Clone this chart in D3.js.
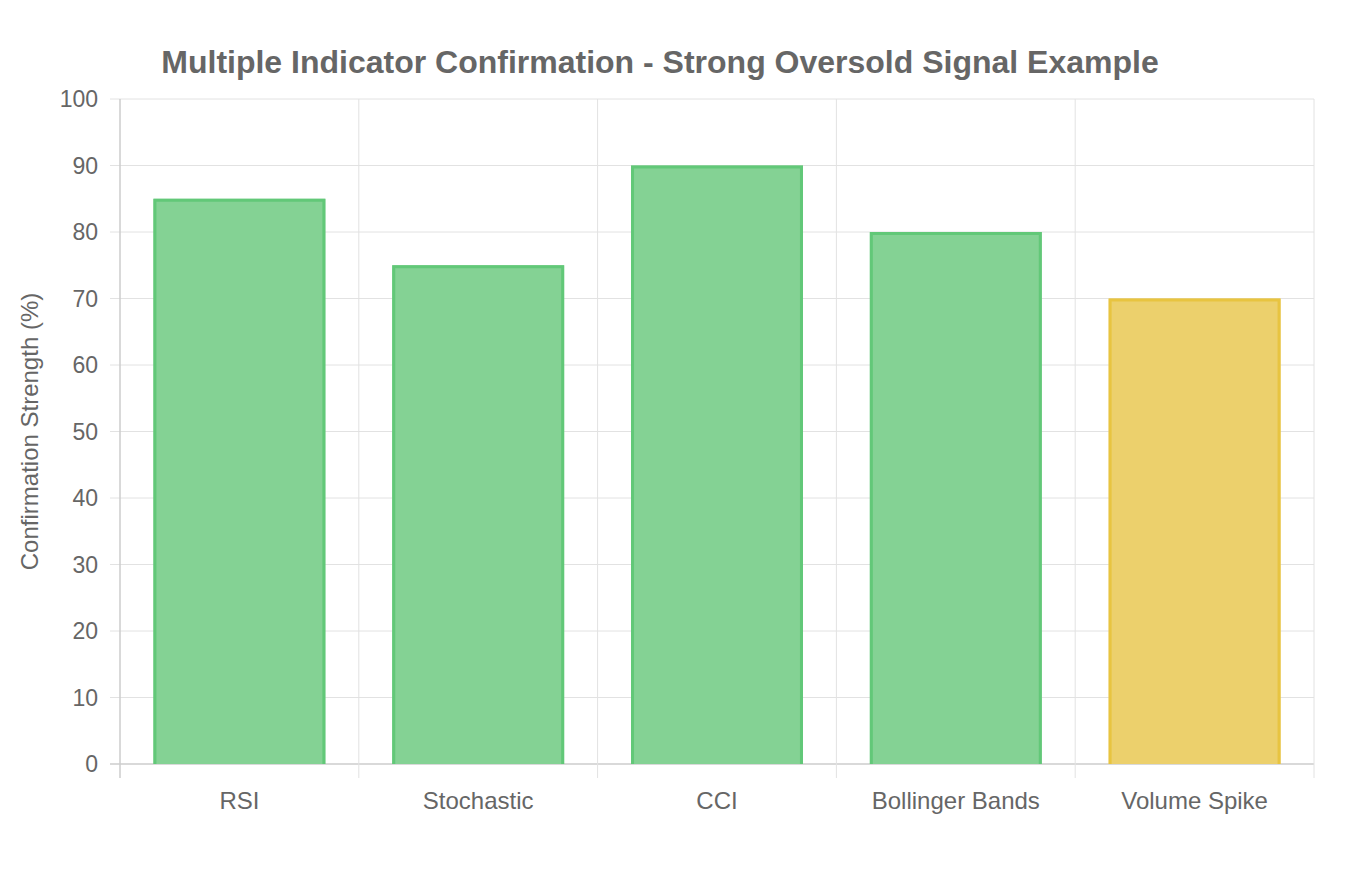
<!DOCTYPE html>
<html>
<head>
<meta charset="utf-8">
<script src="https://cdn.jsdelivr.net/npm/d3@7"></script>
<style>
  body { margin: 0; background: #fff; }
  svg text { font-family: "Liberation Sans", Arial, Helvetica, sans-serif; fill: #666; }
</style>
</head>
<body>
<div id="chart"></div>
<script>
// Chart data
const indicators = ['RSI', 'Stochastic', 'CCI', 'Bollinger Bands', 'Volume Spike'];
const strength = [85, 75, 90, 80, 70];
const fillColors = ['#84d294', '#84d294', '#84d294', '#84d294', '#ecd06c'];
const borderColors = ['#62c878', '#62c878', '#62c878', '#62c878', '#e8c440'];
const yTicks = [0, 10, 20, 30, 40, 50, 60, 70, 80, 90, 100];

const width = 1357, height = 877;
const margin = { top: 99, right: 43, bottom: 113, left: 120 };

const svg = d3.select('#chart').append('svg')
    .attr('width', width)
    .attr('height', height);

const x = d3.scaleBand()
    .domain(indicators)
    .range([margin.left, width - margin.right]);

const y = d3.scaleLinear()
    .domain([0, 100])
    .range([height - margin.bottom, margin.top]);

// Gridlines
const grid = svg.append('g');
grid.selectAll('.hgrid')
    .data(yTicks)
    .join('line')
    .attr('x1', margin.left - 10)
    .attr('x2', width - margin.right)
    .attr('y1', d => y(d))
    .attr('y2', d => y(d))
    .attr('stroke', d => d === 0 ? '#ccc' : '#e2e2e2')
    .attr('stroke-width', d => d === 0 ? 1.5 : 1);

// vertical lines at band edges
const edges = indicators.map(d => x(d)).concat([x.range()[1]]);
grid.selectAll('.vgrid')
    .data(edges)
    .join('line')
    .attr('x1', d => d)
    .attr('x2', d => d)
    .attr('y1', margin.top)
    .attr('y2', y(0) + 14)
    .attr('stroke', (d, i) => i === 0 ? '#ccc' : '#e2e2e2')
    .attr('stroke-width', (d, i) => i === 0 ? 1.5 : 1);

// Bars
const barW = x.bandwidth() * 0.72;
const bars = svg.append('g').selectAll('g')
    .data(indicators)
    .join('g');

bars.append('rect')
    .attr('x', d => x(d) + (x.bandwidth() - barW) / 2)
    .attr('y', (d, i) => y(strength[i]))
    .attr('width', barW)
    .attr('height', (d, i) => y(0) - y(strength[i]))
    .attr('fill', (d, i) => fillColors[i]);

// border on top, left and right (drawn inside the bar)
bars.append('path')
    .attr('d', (d, i) => {
        const bw = 3, h = bw / 2;
        const x0 = x(d) + (x.bandwidth() - barW) / 2 + h;
        const x1 = x0 + barW - bw;
        const yt = y(strength[i]) + h;
        return `M${x0},${y(0)}V${yt}H${x1}V${y(0)}`;
    })
    .attr('fill', 'none')
    .attr('stroke', (d, i) => borderColors[i])
    .attr('stroke-width', 3);

// Y tick labels
svg.append('g').selectAll('text')
    .data(yTicks)
    .join('text')
    .attr('x', margin.left - 22)
    .attr('y', d => y(d))
    .attr('dy', '0.35em')
    .attr('text-anchor', 'end')
    .style('font-size', '23px')
    .text(d => d);

// X tick labels
svg.append('g').selectAll('text')
    .data(indicators)
    .join('text')
    .attr('x', d => x(d) + x.bandwidth() / 2)
    .attr('y', y(0) + 45)
    .attr('text-anchor', 'middle')
    .style('font-size', '24px')
    .text(d => d);

// Y axis title
svg.append('text')
    .attr('transform', `translate(38, ${(margin.top + y(0)) / 2}) rotate(-90)`)
    .attr('text-anchor', 'middle')
    .style('font-size', '24px')
    .text('Confirmation Strength (%)');

// Chart title
svg.append('text')
    .attr('x', 660)
    .attr('y', 73)
    .attr('text-anchor', 'middle')
    .style('font-size', '32px')
    .style('font-weight', 'bold')
    .text('Multiple Indicator Confirmation - Strong Oversold Signal Example');
</script>
</body>
</html>
